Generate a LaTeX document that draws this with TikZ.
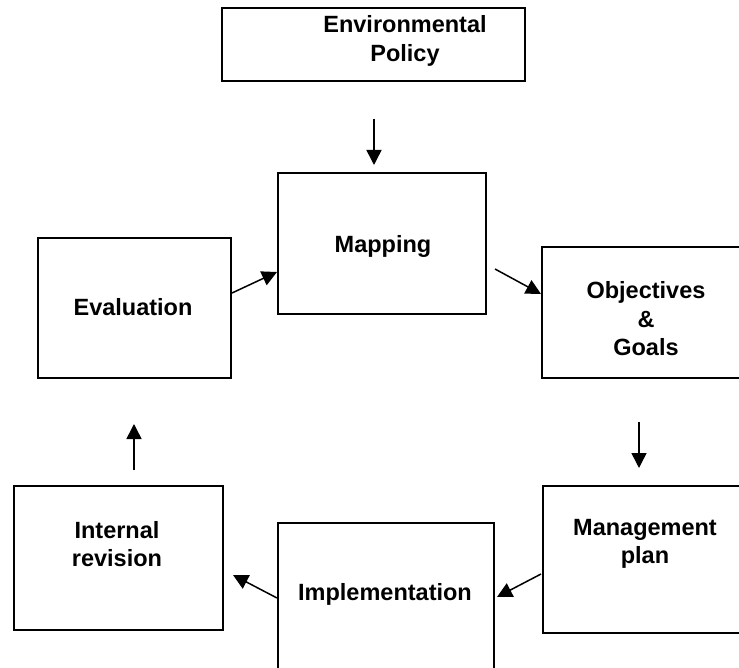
\documentclass[tikz,border=0pt]{standalone}
\usepackage{fontspec}
\setmainfont{Liberation Sans}
\usetikzlibrary{arrows.meta}
\begin{document}
\begin{tikzpicture}[x=1pt,y=-1pt,
  box/.style={draw, line width=2pt, inner sep=0pt, anchor=north west},
  lbl/.style={font=\bfseries\fontsize{23.5}{28.5}\selectfont, align=center, inner sep=0pt},
  arr/.style={line width=1.5pt, -{Triangle[length=15pt,width=15pt]}}]
\useasboundingbox (0,0) rectangle (739,668);
\clip (0,0) rectangle (739,668);
% boxes
\node[box, minimum width=303pt, minimum height=73pt] (env) at (221,7) {};
\node[box, minimum width=208pt, minimum height=141pt] (map) at (277,172) {};
\node[box, minimum width=193pt, minimum height=140pt] (eval) at (37,237) {};
\node[box, minimum width=220pt, minimum height=131pt] (obj) at (541,246) {};
\node[box, minimum width=220pt, minimum height=147pt] (man) at (542,485) {};
\node[box, minimum width=216pt, minimum height=160pt] (imp) at (277,522) {};
\node[box, minimum width=209pt, minimum height=144pt] (int) at (13,485) {};
% labels
\node[lbl] (tenv) at (405,41) {Environmental\\Policy};
\node[lbl] (tmap) at (383,246) {Mapping};
\node[lbl] (teval) at (133,307) {Evaluation};
\node[lbl] (tobj) at (646,319) {Objectives\\\&\\Goals};
\node[lbl] (tman) at (645,544) {Management\\plan};
\node[lbl] (timp) at (385,594) {Implementation};
\node[lbl] (tint) at (117,544) {Internal\\revision};
% connectors
\draw[arr] ([xshift=0.5pt,yshift=-37pt]env.south) -- ([xshift=-8pt,yshift=7pt]map.north);
\draw[arr] ([yshift=15pt]eval.east) -- ([yshift=-28.5pt]map.west);
\draw[arr] ([xshift=8pt,yshift=-25.5pt]map.east) -- ([yshift=18.5pt]obj.west);
\draw[arr] ([xshift=-13pt,yshift=-43pt]obj.south) -- ([xshift=-14pt,yshift=17pt]man.north);
\draw[arr] ([xshift=-1pt,yshift=-14.5pt]man.west) -- ([xshift=2pt,yshift=6pt]imp.east);
\draw[arr] ([yshift=5pt]imp.west) -- ([xshift=9pt,yshift=-17pt]int.east);
\draw[arr] ([xshift=15.5pt,yshift=15pt]int.north) -- ([xshift=-0.5pt,yshift=-45pt]eval.south);
\end{tikzpicture}
\end{document}
